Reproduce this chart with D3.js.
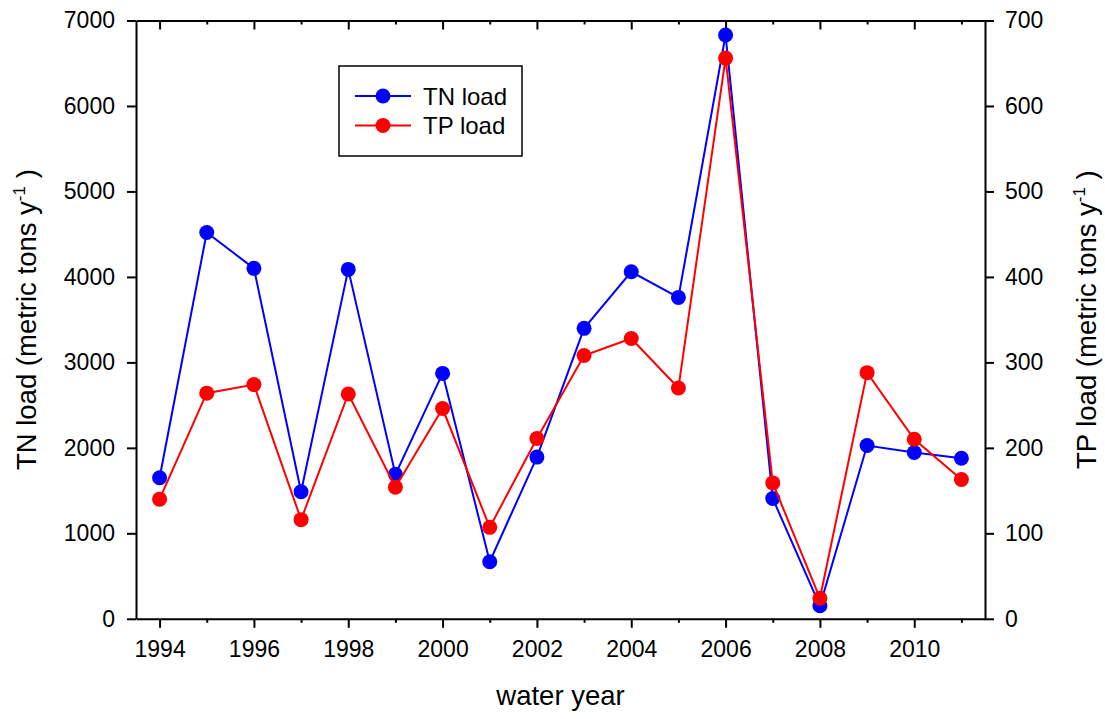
<!DOCTYPE html>
<html>
<head>
<meta charset="utf-8">
<script src="https://cdn.jsdelivr.net/npm/d3@7"></script>
<style>
  body { margin: 0; background: #fff; }
  svg text { font-family: "Liberation Sans", Arial, sans-serif; fill: #000; }
</style>
</head>
<body>
<div id="chart"></div>
<script>
const width = 1105;
const height = 719;

const years = [1994, 1995, 1996, 1997, 1998, 1999, 2000, 2001, 2002, 2003, 2004, 2005, 2006, 2007, 2008, 2009, 2010, 2011];
const tnLoad = [1650, 4520, 4100, 1487, 4088, 1690, 2871, 668, 1892, 3398, 4060, 3760, 6830, 1408, 152, 2027, 1946, 1879];
const tpLoad = [140, 264, 274, 116, 263, 154, 246, 107, 211, 308, 328, 270, 656, 159, 24, 288, 210, 163];
const tnTicks = [0, 1000, 2000, 3000, 4000, 5000, 6000, 7000];
const tpTicks = [0, 100, 200, 300, 400, 500, 600, 700];
const yearTicks = [1994, 1996, 1998, 2000, 2002, 2004, 2006, 2008, 2010];
const minorYears = [1995, 1997, 1999, 2001, 2003, 2005, 2007, 2009, 2011];

const margin = { left: 136, right: 120, top: 20.5, bottom: 100 };
const plotW = 985 - margin.left;
const plotH = 618.8 - margin.top;

const svg = d3
  .select("#chart")
  .append("svg")
  .attr("width", width)
  .attr("height", height);

const g = svg.append("g").attr("transform", `translate(${margin.left},${margin.top})`);

const x = d3.scaleLinear().domain([1993.5, 2011.5]).range([0, plotW]);
const yTN = d3.scaleLinear().domain([0, 7000]).range([plotH, 0]);
const yTP = d3.scaleLinear().domain([0, 700]).range([plotH, 0]);

// axes
function styleAxis(sel) {
  sel.selectAll("path, line").attr("stroke", "#000").attr("stroke-width", 2);
  sel.selectAll("text").style("font-size", "23px").attr("font-family", "Liberation Sans, Arial, sans-serif");
}

g.append("g")
  .call(d3.axisLeft(yTN).tickValues(tnTicks).tickFormat(d3.format("d")).tickSize(9).tickSizeOuter(0).tickPadding(12))
  .call(styleAxis);

g.append("g")
  .attr("transform", `translate(${plotW},0)`)
  .call(d3.axisRight(yTP).tickValues(tpTicks).tickFormat(d3.format("d")).tickSize(9).tickSizeOuter(0).tickPadding(11))
  .call(styleAxis);

g.append("g")
  .attr("transform", `translate(0,${plotH})`)
  .call(d3.axisBottom(x).tickValues(yearTicks).tickFormat(d3.format("d")).tickSize(9).tickSizeOuter(0).tickPadding(13))
  .call(styleAxis);

g.append("g")
  .attr("transform", `translate(0,${plotH})`)
  .call(d3.axisBottom(x).tickValues(minorYears).tickFormat("").tickSize(4).tickSizeOuter(0))
  .call(styleAxis)
  .select(".domain").remove();

// top axis, ticks pointing inward
g.append("g")
  .call(d3.axisBottom(x).tickValues(yearTicks).tickFormat("").tickSize(9).tickSizeOuter(0))
  .call(styleAxis);

g.append("g")
  .call(d3.axisBottom(x).tickValues(minorYears).tickFormat("").tickSize(4).tickSizeOuter(0))
  .call(styleAxis)
  .select(".domain").remove();

// lines
const tnLine = d3.line().x((d, i) => x(years[i])).y(d => yTN(d));
const tpLine = d3.line().x((d, i) => x(years[i])).y(d => yTP(d));

g.append("path")
  .datum(tnLoad)
  .attr("d", tnLine)
  .attr("fill", "none")
  .attr("stroke", "#0000ff")
  .attr("stroke-width", 2);

g.selectAll(".tn-dot")
  .data(tnLoad)
  .enter()
  .append("circle")
  .attr("class", "tn-dot")
  .attr("cx", (d, i) => x(years[i]))
  .attr("cy", d => yTN(d))
  .attr("r", 7.5)
  .attr("fill", "#0000ff");

g.append("path")
  .datum(tpLoad)
  .attr("d", tpLine)
  .attr("fill", "none")
  .attr("stroke", "#ff0000")
  .attr("stroke-width", 2);

g.selectAll(".tp-dot")
  .data(tpLoad)
  .enter()
  .append("circle")
  .attr("class", "tp-dot")
  .attr("cx", (d, i) => x(years[i]))
  .attr("cy", d => yTP(d))
  .attr("r", 7.5)
  .attr("fill", "#ff0000");

// legend
const legend = svg.append("g").attr("transform", "translate(339,66)");
legend.append("rect")
  .attr("width", 183)
  .attr("height", 90)
  .attr("fill", "#fff")
  .attr("stroke", "#000")
  .attr("stroke-width", 1.5);

const legendItems = [
  { label: "TN load", color: "#0000ff" },
  { label: "TP load", color: "#ff0000" },
];

const legendRow = legend
  .selectAll(".legend-row")
  .data(legendItems)
  .enter()
  .append("g")
  .attr("class", "legend-row")
  .attr("transform", (d, i) => `translate(0,${30 + i * 29.5})`);

legendRow.append("line")
  .attr("x1", 16).attr("x2", 72)
  .attr("stroke", d => d.color)
  .attr("stroke-width", 2);
legendRow.append("circle")
  .attr("cx", 44)
  .attr("r", 7.5)
  .attr("fill", d => d.color);
legendRow.append("text")
  .attr("x", 84)
  .attr("y", 8.5)
  .style("font-size", "24px")
  .text(d => d.label);

// axis titles
svg.append("text")
  .attr("x", margin.left + plotW / 2)
  .attr("y", 705)
  .attr("text-anchor", "middle")
  .style("font-size", "27.5px")
  .text("water year");

function yTitle(xPos, name) {
  const t = svg.append("text")
    .attr("transform", `translate(${xPos},${margin.top + plotH / 2}) rotate(-90)`)
    .attr("text-anchor", "middle")
    .style("font-size", "27.5px");
  t.append("tspan").text(name + " load (metric tons y");
  t.append("tspan").attr("dy", -11).style("font-size", "17px").text("-1");
  t.append("tspan").attr("dy", 11).text(" )");
}
yTitle(36, "TN");
yTitle(1096, "TP");
</script>
</body>
</html>
